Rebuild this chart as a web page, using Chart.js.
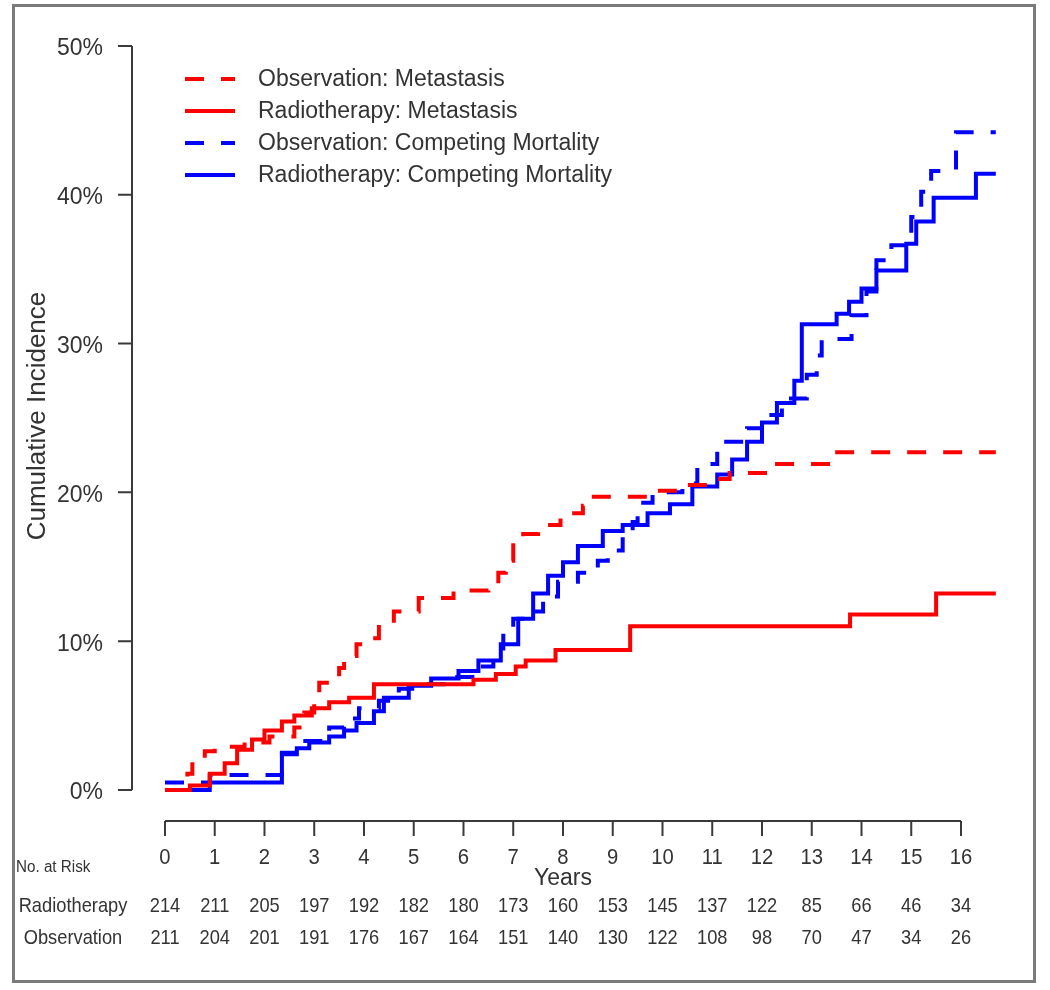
<!DOCTYPE html>
<html>
<head>
<meta charset="utf-8">
<script src="https://cdn.jsdelivr.net/npm/chart.js@4/dist/chart.umd.min.js"></script>
<style>
  html, body { margin: 0; padding: 0; background: #fff; }
  #wrap { width: 1050px; height: 990px; }
</style>
</head>
<body>
<div id="wrap"><canvas id="cif"></canvas></div>
<script>
// x axis ticks (years) and y axis ticks (percent)
const yearTicks = [0, 1, 2, 3, 4, 5, 6, 7, 8, 9, 10, 11, 12, 13, 14, 15, 16];
const pctTicks = [0, 10, 20, 30, 40, 50];
const pctLabels = ['0%', '10%', '20%', '30%', '40%', '50%'];

// numbers at risk under each year tick
const riskRadio = [214, 211, 205, 197, 192, 182, 180, 173, 160, 153, 145, 137, 122, 85, 66, 46, 34];
const riskObs = [211, 204, 201, 191, 176, 167, 164, 151, 140, 130, 122, 108, 98, 70, 47, 34, 26];

// cumulative incidence steps: [year, percent after the jump]
const obsMetastasis = [[0,0],[0.45,1.1],[0.55,2.0],[0.8,2.6],[1.0,2.9],[1.6,3.2],[2.1,3.6],[2.6,4.2],[2.8,5.2],[3.0,6.2],[3.1,7.2],[3.5,8.2],[3.6,9.0],[3.85,9.8],[4.05,10.2],[4.3,11.2],[4.6,12.0],[5.1,12.9],[5.8,13.4],[6.5,13.7],[6.7,14.6],[6.85,15.4],[7.0,16.6],[7.2,17.2],[7.5,17.8],[7.95,18.6],[8.4,19.1],[8.55,19.7],[9.75,20.1],[10.4,20.5],[11.1,20.9],[11.35,21.3],[12.15,21.9],[13.4,22.7],[16.7,22.7]];
const radMetastasis = [[0,0],[0.5,0.3],[0.9,1.1],[1.2,1.8],[1.45,2.7],[1.75,3.4],[2.0,4.0],[2.35,4.6],[2.6,5.0],[2.95,5.5],[3.3,5.9],[3.7,6.2],[4.2,7.1],[6.2,7.4],[6.65,7.8],[7.05,8.3],[7.25,8.7],[7.85,9.4],[9.35,11.0],[13.77,11.8],[15.5,13.2],[16.7,13.2]];
const obsCompeting = [[0,0.5],[0.9,1.0],[2.35,2.5],[2.7,3.3],[3.3,4.2],[3.6,4.8],[3.9,5.5],[4.3,6.0],[4.7,6.8],[5.3,7.1],[5.8,7.6],[6.3,8.3],[6.6,9.5],[6.8,10.5],[7.0,11.5],[7.3,12.0],[7.6,13.0],[7.9,14.0],[8.3,14.6],[8.7,15.4],[8.9,16.1],[9.2,17.0],[9.4,18.0],[9.5,19.3],[9.8,20.0],[10.4,20.6],[10.7,21.9],[11.1,23.4],[11.7,24.3],[12.0,25.2],[12.4,26.3],[12.9,27.9],[13.1,29.2],[13.2,30.3],[13.8,31.9],[14.1,33.5],[14.3,35.6],[14.6,36.6],[15.0,38.5],[15.2,40.2],[15.4,41.6],[15.9,44.2],[16.7,44.2]];
const radCompeting = [[0,0],[0.9,0.5],[2.35,2.4],[2.65,2.8],[2.9,3.2],[3.3,3.6],[3.6,4.0],[3.85,4.5],[4.2,5.3],[4.4,6.2],[4.9,7.0],[5.35,7.5],[5.9,8.0],[6.3,8.7],[6.75,9.8],[7.1,11.5],[7.4,13.2],[7.7,14.4],[8.0,15.3],[8.3,16.4],[8.8,17.4],[9.2,17.8],[9.7,18.6],[10.15,19.2],[10.6,20.4],[11.1,21.2],[11.4,22.2],[11.7,23.4],[12.0,24.7],[12.3,26.0],[12.65,27.5],[12.8,31.3],[13.5,32.0],[13.75,32.8],[14.0,33.7],[14.3,34.9],[14.9,36.7],[15.1,38.2],[15.45,39.8],[16.3,41.4],[16.7,41.4]];

const DASH = [19, 17];
const FONT = '"Liberation Sans", Arial, sans-serif';
const INK = '#333';

function toXY(arr) {
    return arr.map(p => ({ x: p[0], y: p[1] }));
}

function series(label, arr, color, dashed) {
    return {
        label: label,
        data: toXY(arr),
        borderColor: color,
        borderWidth: 4,
        borderDash: dashed ? DASH : [],
        borderCapStyle: 'butt',
        stepped: true,
        pointRadius: 0,
        fill: false,
        clip: false
    };
}

// text squeezed horizontally like the narrow table font in the original
function narrowText(ctx, text, x, y, size, squeeze, align) {
    ctx.save();
    ctx.font = size + 'px ' + FONT;
    ctx.translate(x, y);
    ctx.scale(squeeze, 1);
    ctx.textAlign = align || 'center';
    ctx.textBaseline = 'middle';
    ctx.fillText(text, 0, 0);
    ctx.restore();
}

// R style detached axes, legend, risk table and outer frame
const rDecor = {
    id: 'rDecor',
    afterDraw(chart) {
        const ctx = chart.ctx;
        const xs = chart.scales.x, ys = chart.scales.y;
        ctx.save();
        ctx.fillStyle = INK;
        ctx.strokeStyle = INK;

        // frame
        ctx.strokeStyle = '#7a7a7a';
        ctx.lineWidth = 3;
        ctx.strokeRect(13.5, 5.5, 1021, 976);

        // y axis
        ctx.strokeStyle = '#3a3a3a';
        ctx.lineWidth = 2;
        const yAxisX = 132;
        ctx.beginPath();
        ctx.moveTo(yAxisX, ys.getPixelForValue(pctTicks[pctTicks.length - 1]));
        ctx.lineTo(yAxisX, ys.getPixelForValue(pctTicks[0]));
        pctTicks.forEach(v => {
            const py = ys.getPixelForValue(v);
            ctx.moveTo(118, py);
            ctx.lineTo(yAxisX, py);
        });
        ctx.stroke();
        ctx.font = '23px ' + FONT;
        ctx.textAlign = 'right';
        ctx.textBaseline = 'middle';
        pctTicks.forEach((v, i) => {
            ctx.fillText(pctLabels[i], 103, ys.getPixelForValue(v) + 3);
        });

        // y title
        ctx.save();
        ctx.translate(38, 416);
        ctx.rotate(-Math.PI / 2);
        ctx.font = '26px ' + FONT;
        ctx.textAlign = 'center';
        ctx.textBaseline = 'middle';
        ctx.fillText('Cumulative Incidence', 0, 0);
        ctx.restore();

        // x axis
        const xAxisY = 821;
        ctx.beginPath();
        ctx.moveTo(xs.getPixelForValue(yearTicks[0]), xAxisY);
        ctx.lineTo(xs.getPixelForValue(yearTicks[yearTicks.length - 1]), xAxisY);
        yearTicks.forEach(v => {
            const px = xs.getPixelForValue(v);
            ctx.moveTo(px, xAxisY);
            ctx.lineTo(px, xAxisY + 15);
        });
        ctx.stroke();
        yearTicks.forEach(v => {
            narrowText(ctx, String(v), xs.getPixelForValue(v), 858, 22, 0.92);
        });
        ctx.font = '23px ' + FONT;
        ctx.textAlign = 'center';
        ctx.textBaseline = 'middle';
        ctx.fillText('Years', (xs.getPixelForValue(0) + xs.getPixelForValue(16)) / 2, 879);

        // numbers at risk
        narrowText(ctx, 'No. at Risk', 16, 868, 16, 0.95, 'left');
        narrowText(ctx, 'Radiotherapy', 73, 906, 21, 0.87);
        narrowText(ctx, 'Observation', 73, 938, 21, 0.87);
        yearTicks.forEach((v, i) => {
            const px = xs.getPixelForValue(v);
            narrowText(ctx, String(riskRadio[i]), px, 906, 21, 0.87);
            narrowText(ctx, String(riskObs[i]), px, 938, 21, 0.87);
        });

        // legend
        chart.data.datasets.forEach((ds, i) => {
            const ly = 79 + i * 32;
            ctx.save();
            ctx.strokeStyle = ds.borderColor;
            ctx.lineWidth = 4;
            ctx.lineCap = 'butt';
            ctx.setLineDash(ds.borderDash);
            ctx.beginPath();
            ctx.moveTo(185, ly);
            ctx.lineTo(235, ly);
            ctx.stroke();
            ctx.restore();
            ctx.font = '23px ' + FONT;
            ctx.textAlign = 'left';
            ctx.textBaseline = 'middle';
            ctx.fillStyle = INK;
            ctx.fillText(ds.label, 258, ly + 1);
        });

        ctx.restore();
    }
};

const ctx = document.getElementById('cif').getContext('2d');
const cifChart = new Chart(ctx, {
    type: 'line',
    data: {
        datasets: [
            series('Observation: Metastasis', obsMetastasis, '#ff0000', true),
            series('Radiotherapy: Metastasis', radMetastasis, '#ff0000', false),
            series('Observation: Competing Mortality', obsCompeting, '#0000ff', true),
            series('Radiotherapy: Competing Mortality', radCompeting, '#0000ff', false)
        ]
    },
    options: {
        responsive: true,
        maintainAspectRatio: false,
        animation: false,
        layout: {
            padding: { left: 132, right: 39, top: 31, bottom: 168 }
        },
        plugins: {
            legend: { display: false },
            tooltip: { enabled: false }
        },
        scales: {
            x: { type: 'linear', min: -0.663, max: 17.005, display: false },
            y: { type: 'linear', min: -2.15, max: 51.0, display: false }
        }
    },
    plugins: [rDecor]
});
</script>
</body>
</html>
